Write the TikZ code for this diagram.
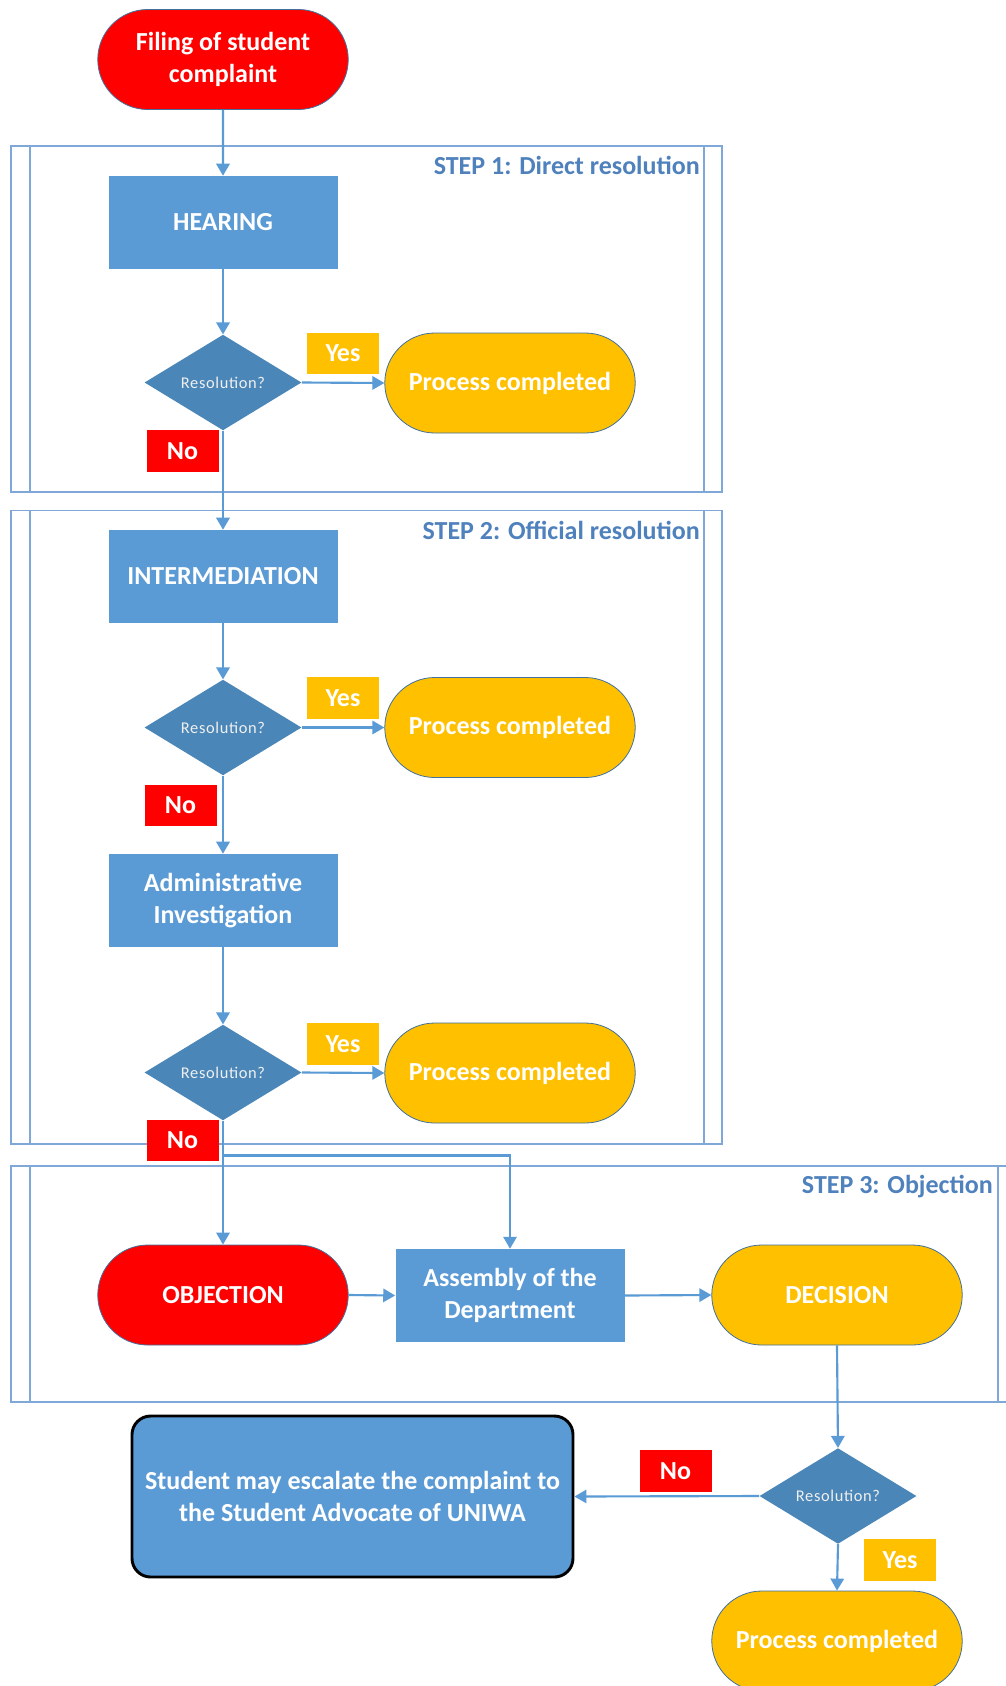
\documentclass[tikz,border=0pt]{standalone}
\usepackage{fontspec}
\setmainfont{Carlito}
\usetikzlibrary{shapes.geometric,shapes.misc,arrows.meta}
\definecolor{boxblue}{HTML}{5B9BD5}
\definecolor{diablue}{HTML}{4A86B8}
\definecolor{goldc}{HTML}{FFC000}
\definecolor{redc}{HTML}{FF0000}
\definecolor{edgec}{HTML}{41719C}
\definecolor{framec}{HTML}{7FA8D8}
\definecolor{stepc}{HTML}{4F81BD}
\definecolor{linec}{HTML}{5B9BD5}
\newcommand\bigbf{\bfseries\fontsize{19.5}{24}\selectfont}
\tikzset{
  oval/.style={rounded rectangle, minimum width=194.5pt, minimum height=75pt,
    draw=edgec, line width=0.6pt, text=white, font=\bigbf, align=center},
  procbox/.style={rectangle, minimum width=171.75pt, minimum height=69.75pt,
    fill=boxblue, text=white, font=\bigbf, align=center},
  decision/.style={diamond, minimum width=117.75pt, minimum height=71.25pt,
    inner sep=0pt, fill=diablue, text=white!88!gray,
    font=\fontsize{12.3}{14}\selectfont\addfontfeature{LetterSpace=4}},
  yeslbl/.style={rectangle, minimum width=54pt, minimum height=31pt,
    fill=goldc, text=white, font=\bigbf},
  nolbl/.style={rectangle, minimum width=54pt, minimum height=31pt,
    fill=redc, text=white, font=\bigbf},
  steplbl/.style={anchor=east, text=stepc, font=\bigbf, inner sep=0pt},
  frameline/.style={draw=framec, line width=1.2pt},
  conn/.style={draw=linec, line width=1.6pt, -{Triangle[width=10pt,length=9pt]}},
  studbox/.style={rectangle, rounded corners=14pt, draw=black, line width=2.2pt,
    fill=boxblue, minimum width=330.75pt, minimum height=120.75pt,
    text=white, font=\bigbf, align=center}
}
\begin{document}
\begin{tikzpicture}[x=0.75pt,y=-0.75pt]
\clip (0,0) rectangle (1006,1686);
\fill[white] (0,0) rectangle (1006,1686);

% frames
\draw[frameline] (10.7,146) rectangle (722,492);
\draw[frameline] (30,146) -- (30,492);
\draw[frameline] (704,146) -- (704,492);
\draw[frameline] (10.7,510.5) rectangle (722,1144);
\draw[frameline] (30,510.5) -- (30,1144);
\draw[frameline] (704,510.5) -- (704,1144);
\draw[frameline] (10.7,1166) rectangle (1012,1402);
\draw[frameline] (30,1166) -- (30,1402);
\draw[frameline] (998,1166) -- (998,1402);

\node[steplbl] (s1) at (700,165.5) {STEP 1: Direct resolution};
\node[steplbl] (s2) at (700,530) {STEP 2: Official resolution};
\node[steplbl] (s3) at (993,1187) {STEP 3: Objection};

% nodes
\node[oval, fill=redc] (filing) at (223,59.5) {Filing of student\\complaint};
\node[procbox] (hearing) at (223,222.5) {HEARING};
\node[decision] (d1) at (223,382.5) {Resolution?};
\node[oval, fill=goldc] (pc1) at (510,383) {Process completed};

\node[procbox] (inter) at (223,576.5) {INTERMEDIATION};
\node[decision] (d2) at (223,727.5) {Resolution?};
\node[oval, fill=goldc] (pc2) at (510,727.5) {Process completed};
\node[procbox] (admin) at (223,900.5) {Administrative\\Investigation};
\node[decision] (d3) at (223,1072.5) {Resolution?};
\node[oval, fill=goldc] (pc3) at (510,1073) {Process completed};

\node[oval, fill=redc] (objection) at (223,1295) {OBJECTION};
\node[procbox] (assembly) at (510,1295.5) {Assembly of the\\Department};
\node[oval, fill=goldc] (decisionnode) at (837,1295) {DECISION};
\node[decision] (d4) at (838,1496) {Resolution?};
\node[studbox] (student) at (352.5,1496.5) {Student may escalate the complaint to\\the Student Advocate of UNIWA};
\node[oval, fill=goldc] (pc4) at (837,1641) {Process completed};

% connectors
\draw[conn] (filing) -- (hearing);
\draw[conn] (hearing) -- (d1);
\draw[conn] (d1.east) -- (pc1.west);
\draw[conn] (d1.south) -- (inter.north);
\draw[conn] (inter) -- (d2);
\draw[conn] (d2.east) -- (pc2.west);
\draw[conn] (d2.south) -- (admin.north);
\draw[conn] (admin) -- (d3);
\draw[conn] (d3.east) -- (pc3.west);
\draw[conn] (d3.south) -- (objection.north);
\coordinate (branch) at (223,1155.5);
\draw[conn] (branch) -| (assembly.north);
\draw[conn] (objection.east) -- (assembly.west);
\draw[conn] (assembly.east) -- (decisionnode.west);
\draw[conn] (decisionnode.south) -- (d4.north);
\draw[conn] (d4.west) -- (student.east);
\draw[conn] (d4.south) -- (pc4.north);

% yes / no labels
\node[yeslbl] (y1) at (343,353.5) {Yes};
\node[nolbl] (n1) at (182.5,451) {No};
\node[yeslbl] (y2) at (343,698) {Yes};
\node[nolbl] (n2) at (180.5,805.5) {No};
\node[yeslbl] (y3) at (343,1044) {Yes};
\node[nolbl] (n3) at (182.5,1140.5) {No};
\node[nolbl] (n4) at (675.5,1471) {No};
\node[yeslbl] (y4) at (900,1560) {Yes};
\end{tikzpicture}
\end{document}
